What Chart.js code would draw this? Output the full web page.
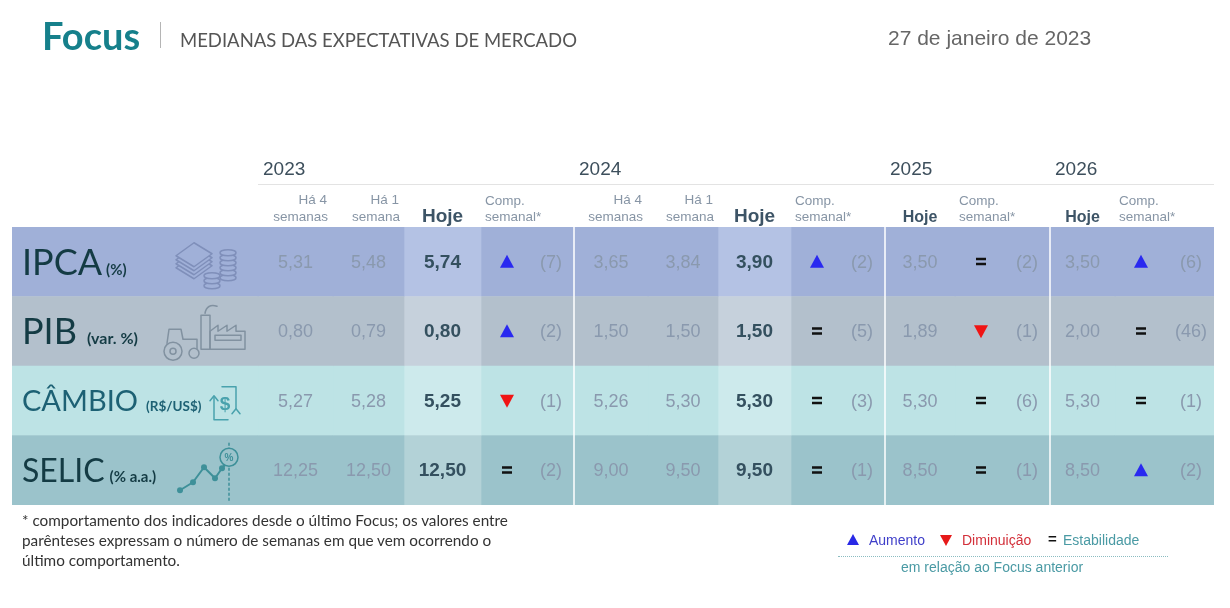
<!DOCTYPE html>
<html>
<head>
<meta charset="utf-8">
<script src="https://cdn.jsdelivr.net/npm/chart.js@4.4.1/dist/chart.umd.min.js"></script>
<style>
  html, body { margin: 0; padding: 0; background: #fff; }
  body { width: 1230px; height: 608px; position: relative; overflow: hidden; }
  #chart { position: absolute; left: 0; top: 0; }
  .t { position: absolute; white-space: nowrap; }
  .tri-up { position: absolute; width: 0; height: 0; border-left: 6px solid transparent; border-right: 6px solid transparent; border-bottom: 11px solid #2929e6; }
  .tri-down { position: absolute; width: 0; height: 0; border-left: 6px solid transparent; border-right: 6px solid transparent; border-top: 11px solid #e61a1a; }
</style>
</head>
<body>
<canvas id="chart" width="1230" height="608"></canvas>

<div class="t" style="left:42px;top:35px;font:700 38px/0 Lato;color:#16808b">Focus</div>
<div style="position:absolute;left:160px;top:22px;width:1px;height:26px;background:#b5b5b5"></div>
<div class="t" style="left:180px;top:40px;font:400 18.5px/0 Lato;color:#555">MEDIANAS DAS EXPECTATIVAS DE MERCADO</div>
<div class="t" style="left:888px;top:38px;font:400 21px/0 'Liberation Sans';color:#666">27 de janeiro de 2023</div>

<div style="position:absolute;left:22px;top:510px;font:400 15.3px/20px Lato;color:#333;white-space:nowrap">
* comportamento dos indicadores desde o último Focus; os valores entre<br>
parênteses expressam o número de semanas em que vem ocorrendo o<br>
último comportamento.
</div>

<div class="tri-up" style="left:847px;top:534px"></div>
<div class="t" style="left:869px;top:540px;font:400 14px/0 'Liberation Sans';color:#3f3fc9">Aumento</div>
<div class="tri-down" style="left:940px;top:535px"></div>
<div class="t" style="left:962px;top:540px;font:400 14px/0 'Liberation Sans';color:#d3303a">Diminuição</div>
<div class="t" style="left:1048px;top:539px;font:700 15px/0 'Liberation Sans';color:#111">=</div>
<div class="t" style="left:1063px;top:540px;font:400 14px/0 'Liberation Sans';color:#4a9aa4">Estabilidade</div>
<div style="position:absolute;left:838px;top:556px;width:330px;border-top:1px dotted #8bbcc1"></div>
<div class="t" style="left:901px;top:567px;font:400 14px/0 'Liberation Sans';color:#4a9aa4">em relação ao Focus anterior</div>

<script>
// table data
const indicators = ['IPCA', 'PIB', 'CÂMBIO', 'SELIC']
const units = ['(%)', '(var. %)', '(R$/US$)', '(% a.a.)']
const years = ['2023', '2024', '2025', '2026']

const ha4_2023 = [5.31, 0.80, 5.27, 12.25]
const ha1_2023 = [5.48, 0.79, 5.28, 12.50]
const hoje_2023 = [5.74, 0.80, 5.25, 12.50]
const comp_2023 = ['up', 'up', 'down', 'eq']
const weeks_2023 = [7, 2, 1, 2]

const ha4_2024 = [3.65, 1.50, 5.26, 9.00]
const ha1_2024 = [3.84, 1.50, 5.30, 9.50]
const hoje_2024 = [3.90, 1.50, 5.30, 9.50]
const comp_2024 = ['up', 'eq', 'eq', 'eq']
const weeks_2024 = [2, 5, 3, 1]

const hoje_2025 = [3.50, 1.89, 5.30, 8.50]
const comp_2025 = ['eq', 'down', 'eq', 'eq']
const weeks_2025 = [2, 1, 6, 1]

const hoje_2026 = [3.50, 2.00, 5.30, 8.50]
const comp_2026 = ['up', 'eq', 'eq', 'up']
const weeks_2026 = [6, 46, 1, 2]

// grouped by year so columns can look them up
const ha4ByYear = [ha4_2023, ha4_2024]
const ha1ByYear = [ha1_2023, ha1_2024]
const hojeByYear = [hoje_2023, hoje_2024, hoje_2025, hoje_2026]
const compByYear = [comp_2023, comp_2024, comp_2025, comp_2026]
const weeksByYear = [weeks_2023, weeks_2024, weeks_2025, weeks_2026]

// layout (column widths in px, colours)
const columns = [
  { kind: 'label', width: 246 },
  { kind: 'ha4', year: 0, width: 75 },
  { kind: 'ha1', year: 0, width: 71 },
  { kind: 'hoje', year: 0, width: 77, light: true },
  { kind: 'comp', year: 0, width: 93 },
  { kind: 'ha4', year: 1, width: 74 },
  { kind: 'ha1', year: 1, width: 70 },
  { kind: 'hoje', year: 1, width: 73, light: true },
  { kind: 'comp', year: 1, width: 94 },
  { kind: 'hoje', year: 2, width: 70 },
  { kind: 'comp', year: 2, width: 95 },
  { kind: 'hoje', year: 3, width: 65 },
  { kind: 'comp', year: 3, width: 99 }
]
const yearStart = [1, 5, 9, 11]
const rowColors = ['#a0b0d8', '#b3c0cc', '#bde3e5', '#9bc3cb']
const lightColors = ['#b4c2e4', '#c6d1dc', '#cdeaec', '#b3d2d7']
const labelColors = ['#143b44', '#143b44', '#1d6174', '#143b44']
const labelSizes = [36, 36, 29, 32]
const unitSizes = [15, 16, 13.5, 15]
const unitGaps = [4, 10, 8, 5]
const iconOffsets = [194, 193, 213, 195]

const totalWidth = columns.reduce((s, c) => s + c.width, 0)
const fmt = v => v.toFixed(2).replace('.', ',')

const drawIcon = (ctx, r, cx, cy, bg) => {
  ctx.save()
  ctx.lineWidth = 1.5
  ctx.lineJoin = 'round'
  ctx.lineCap = 'round'
  if (r === 0) {
    ctx.strokeStyle = '#7f8fba'
    ctx.fillStyle = bg
    for (let k = 3; k >= 0; k--) {
      const o = k * 4
      ctx.beginPath()
      ctx.moveTo(cx - 30, cy - 8 + o)
      ctx.lineTo(cx - 12, cy - 21 + o)
      ctx.lineTo(cx + 6, cy - 10 + o)
      ctx.lineTo(cx - 12, cy + 3 + o)
      ctx.closePath()
      ctx.fill()
      ctx.stroke()
    }
    const stack = (sx, base, n) => {
      for (let i = 0; i < n; i++) {
        ctx.beginPath()
        ctx.ellipse(sx, base - i * 5, 8, 3, 0, 0, Math.PI * 2)
        ctx.fill()
        ctx.stroke()
      }
    }
    stack(cx + 22, cy + 14, 6)
    stack(cx + 6, cy + 22, 3)
  } else if (r === 1) {
    ctx.strokeStyle = '#8191a0'
    ctx.fillStyle = bg
    // factory
    ctx.strokeRect(cx - 4, cy - 18, 9, 34)
    ctx.beginPath()
    ctx.moveTo(cx, cy - 20)
    ctx.quadraticCurveTo(cx + 2, cy - 30, cx + 12, cy - 27)
    ctx.stroke()
    ctx.beginPath()
    ctx.moveTo(cx + 5, cy + 16)
    ctx.lineTo(cx + 5, cy - 2)
    for (let k = 0; k < 3; k++) {
      ctx.lineTo(cx + 13 + k * 9, cy - 8)
      ctx.lineTo(cx + 13 + k * 9, cy - 2)
    }
    ctx.lineTo(cx + 40, cy - 2)
    ctx.lineTo(cx + 40, cy + 16)
    ctx.closePath()
    ctx.stroke()
    ctx.strokeRect(cx + 10, cy + 2, 26, 5)
    // tractor
    ctx.beginPath()
    ctx.moveTo(cx - 38, cy + 10)
    ctx.lineTo(cx - 36, cy - 4)
    ctx.lineTo(cx - 24, cy - 4)
    ctx.lineTo(cx - 22, cy + 6)
    ctx.lineTo(cx - 8, cy + 6)
    ctx.lineTo(cx - 8, cy + 16)
    ctx.stroke()
    ctx.beginPath()
    ctx.arc(cx - 32, cy + 18, 9, 0, Math.PI * 2)
    ctx.fill()
    ctx.stroke()
    ctx.beginPath()
    ctx.arc(cx - 32, cy + 18, 3, 0, Math.PI * 2)
    ctx.stroke()
    ctx.beginPath()
    ctx.arc(cx - 11, cy + 20, 5, 0, Math.PI * 2)
    ctx.fill()
    ctx.stroke()
  } else if (r === 2) {
    ctx.strokeStyle = '#49a2ad'
    ctx.fillStyle = '#49a2ad'
    ctx.beginPath()
    ctx.moveTo(cx - 3, cy - 16)
    ctx.lineTo(cx + 11, cy - 16)
    ctx.lineTo(cx + 11, cy + 6)
    ctx.moveTo(cx + 3, cy + 17)
    ctx.lineTo(cx - 11, cy + 17)
    ctx.lineTo(cx - 11, cy - 6)
    ctx.stroke()
    ctx.beginPath()
    ctx.moveTo(cx - 15, cy - 2); ctx.lineTo(cx - 11, cy - 7); ctx.lineTo(cx - 7, cy - 2)
    ctx.moveTo(cx + 7, cy + 11); ctx.lineTo(cx + 11, cy + 6); ctx.lineTo(cx + 15, cy + 11)
    ctx.stroke()
    ctx.font = '700 19px "Liberation Sans"'
    ctx.textAlign = 'center'
    ctx.fillText('$', cx, cy + 7)
  } else {
    ctx.strokeStyle = '#3e9099'
    ctx.fillStyle = '#3e9099'
    ctx.setLineDash([2, 3])
    ctx.beginPath()
    ctx.moveTo(cx + 22, cy - 29)
    ctx.lineTo(cx + 22, cy + 29)
    ctx.stroke()
    ctx.setLineDash([])
    const pts = [[-27, 18], [-14, 10], [-3, -5], [8, 6], [15, -4]]
    ctx.lineWidth = 2
    ctx.beginPath()
    pts.forEach(([dx, dy], i) => i ? ctx.lineTo(cx + dx, cy + dy) : ctx.moveTo(cx + dx, cy + dy))
    ctx.lineTo(cx + 22, cy - 12)
    ctx.stroke()
    pts.forEach(([dx, dy]) => {
      ctx.beginPath()
      ctx.arc(cx + dx, cy + dy, 3, 0, Math.PI * 2)
      ctx.fill()
    })
    ctx.lineWidth = 1.5
    ctx.fillStyle = bg
    ctx.beginPath()
    ctx.arc(cx + 22, cy - 15, 9, 0, Math.PI * 2)
    ctx.fill()
    ctx.stroke()
    ctx.fillStyle = '#3e9099'
    ctx.font = '700 10px "Liberation Sans"'
    ctx.textAlign = 'center'
    ctx.fillText('%', cx + 22, cy - 11)
  }
  ctx.restore()
}

const drawSymbol = (ctx, kind, cx, cy) => {
  ctx.beginPath()
  if (kind === 'up') {
    ctx.fillStyle = '#2929f0'
    ctx.moveTo(cx - 7, cy + 6); ctx.lineTo(cx + 7, cy + 6); ctx.lineTo(cx, cy - 7)
    ctx.fill()
  } else if (kind === 'down') {
    ctx.fillStyle = '#f01414'
    ctx.moveTo(cx - 7, cy - 6); ctx.lineTo(cx + 7, cy - 6); ctx.lineTo(cx, cy + 7)
    ctx.fill()
  } else {
    ctx.fillStyle = '#111'
    ctx.fillRect(cx - 5, cy - 4, 10, 2.5)
    ctx.fillRect(cx - 5, cy + 1, 10, 2.5)
  }
}

const tablePlugin = {
  id: 'focusTable',
  afterDatasetsDraw(chart) {
    const { ctx, chartArea: area } = chart
    ctx.save()
    // vertical separators between years
    yearStart.slice(1).forEach(ci => {
      const x = chart.getDatasetMeta(ci).data[0].base
      ctx.fillStyle = '#ffffff'
      ctx.fillRect(x - 0.75, area.top, 1.5, area.bottom - area.top)
    })
    // header rule
    const firstLeft = chart.getDatasetMeta(1).data[0].base
    ctx.fillStyle = '#e3e3e3'
    ctx.fillRect(firstLeft, 184, area.right - firstLeft, 1)
    // year labels
    ctx.font = '400 19px "Liberation Sans"'
    ctx.fillStyle = '#3d4f5c'
    ctx.textAlign = 'left'
    yearStart.forEach((ci, y) => {
      const x = chart.getDatasetMeta(ci).data[0].base
      ctx.fillText(years[y], x + 5, 175)
    })

    columns.forEach((col, ci) => {
      const bars = chart.getDatasetMeta(ci).data
      const left = bars[0].base
      const right = bars[0].x
      const mid = (left + right) / 2
      // column headers
      ctx.textAlign = 'right'
      ctx.font = '400 13.5px "Liberation Sans"'
      ctx.fillStyle = '#8795a5'
      if (col.kind === 'ha4') {
        ctx.fillText('Há 4', right - 6, 204)
        ctx.fillText('semanas', right - 5, 221)
      } else if (col.kind === 'ha1') {
        ctx.fillText('Há 1', right - 5, 204)
        ctx.fillText('semana', right - 4, 221)
      } else if (col.kind === 'comp') {
        ctx.textAlign = 'left'
        ctx.fillText('Comp.', left + 4, 205)
        ctx.fillText('semanal*', left + 4, 221)
      } else if (col.kind === 'hoje') {
        ctx.textAlign = 'center'
        ctx.fillStyle = '#3d5466'
        ctx.font = col.light ? '700 19px "Liberation Sans"' : '700 16px "Liberation Sans"'
        ctx.fillText('Hoje', mid, 222)
      }

      bars.forEach((bar, r) => {
        const cy = bar.y
        if (col.kind === 'label') {
          ctx.textAlign = 'left'
          ctx.fillStyle = labelColors[r]
          ctx.font = `400 ${labelSizes[r]}px Lato`
          const base = cy + labelSizes[r] * 0.36
          ctx.fillText(indicators[r], left + 10, base)
          const w = ctx.measureText(indicators[r]).width
          ctx.font = `700 ${unitSizes[r]}px Lato`
          ctx.fillText(units[r], left + 10 + w + unitGaps[r], base)
          drawIcon(ctx, r, left + iconOffsets[r], cy + 2, rowColors[r])
        } else if (col.kind === 'ha4' || col.kind === 'ha1') {
          const v = (col.kind === 'ha4' ? ha4ByYear : ha1ByYear)[col.year][r]
          ctx.textAlign = 'center'
          ctx.font = '400 18px "Liberation Sans"'
          ctx.fillStyle = '#8a99ae'
          ctx.fillText(fmt(v), mid, cy + 6)
        } else if (col.kind === 'hoje') {
          const v = hojeByYear[col.year][r]
          ctx.textAlign = 'center'
          if (col.light) {
            ctx.font = '700 19px "Liberation Sans"'
            ctx.fillStyle = '#34505f'
          } else {
            ctx.font = '400 18px "Liberation Sans"'
            ctx.fillStyle = '#8a99ae'
          }
          ctx.fillText(fmt(v), mid, cy + 6)
        } else {
          drawSymbol(ctx, compByYear[col.year][r], left + 26, cy)
          ctx.textAlign = 'center'
          ctx.font = '400 18px "Liberation Sans"'
          ctx.fillStyle = '#8a99ae'
          ctx.fillText(`(${weeksByYear[col.year][r]})`, right - 23, cy + 6)
        }
      })
    })
    ctx.restore()
  }
}

const ctx = document.getElementById('chart').getContext('2d')
new Chart(ctx, {
  type: 'bar',
  data: {
    labels: indicators,
    datasets: columns.map(col => ({
      label: col.kind,
      data: indicators.map(() => col.width),
      backgroundColor: col.light ? lightColors : rowColors,
      borderWidth: 0,
      barPercentage: 1,
      categoryPercentage: 1
    }))
  },
  options: {
    indexAxis: 'y',
    responsive: false,
    animation: false,
    devicePixelRatio: 1,
    layout: { padding: { left: 12, right: 16, top: 227, bottom: 103 } },
    scales: {
      x: { type: 'linear', stacked: true, min: 0, max: totalWidth, display: false },
      y: { stacked: true, display: false }
    },
    plugins: {
      legend: { display: false },
      tooltip: { enabled: false }
    }
  },
  plugins: [tablePlugin]
})
</script>
</body>
</html>
